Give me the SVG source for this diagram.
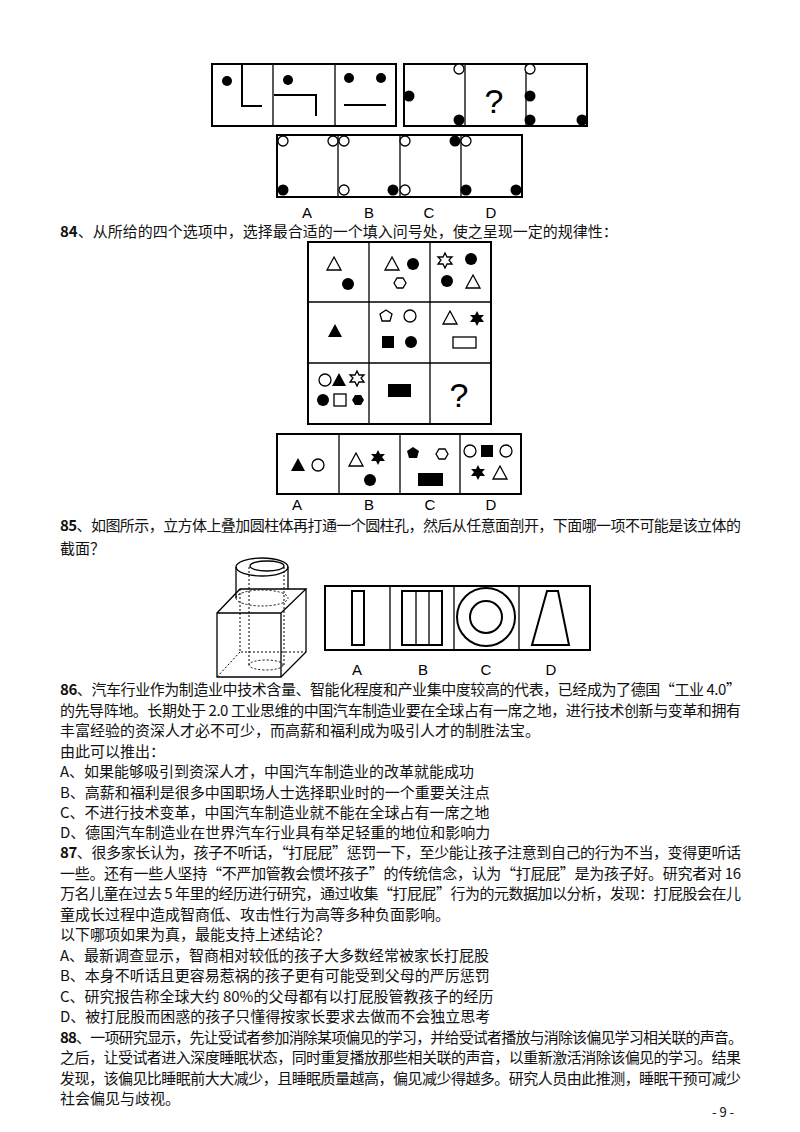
<svg xmlns="http://www.w3.org/2000/svg" width="800" height="1132" viewBox="0 0 800 1132">
<style>
.b{fill:none;stroke:#000;stroke-width:2}
.t{fill:none;stroke:#000;stroke-width:1.3}
.f{fill:#000}
.o{fill:#fff;stroke:#000;stroke-width:1.3}
.d{fill:none;stroke:#000;stroke-width:1;stroke-dasharray:2 2}
.tx{font-family:"Noto Sans CJK SC","Liberation Serif",serif;font-size:15px;fill:#111}
.lb{font-family:"Liberation Sans",sans-serif;font-size:15px;fill:#000;text-anchor:middle}
.q{font-family:"Liberation Sans",sans-serif;font-size:34px;fill:#000;text-anchor:middle}
</style>
<rect width="800" height="1132" fill="#fff"/>
<g id="fig83">
<rect class="b" x="212" y="64" width="184" height="62"/><line class="t" x1="273" y1="64" x2="273" y2="126"/><line class="t" x1="335" y1="64" x2="335" y2="126"/>
<circle class="f" cx="227" cy="81" r="5"/><polyline class="b" points="242,64 242,106 262,106"/>
<circle class="f" cx="288" cy="80" r="5"/><polyline class="b" points="274,95 316,95 316,116"/>
<circle class="f" cx="349" cy="78" r="5"/><circle class="f" cx="381" cy="78" r="5"/><line class="b" x1="344" y1="105" x2="386" y2="105"/>
<rect class="b" x="404" y="64" width="183" height="62"/><line class="t" x1="465" y1="64" x2="465" y2="126"/><line class="t" x1="526" y1="64" x2="526" y2="126"/>
<circle class="f" cx="409" cy="96" r="5.5"/><circle class="o" cx="459" cy="69" r="5"/><circle class="f" cx="459" cy="120" r="5.5"/>
<text class="q" x="494" y="113">?</text>
<circle class="o" cx="530" cy="69" r="5"/><circle class="f" cx="530" cy="96" r="5.5"/><circle class="f" cx="530" cy="120" r="5.5"/><circle class="f" cx="582" cy="120" r="5.5"/>
<rect class="b" x="277" y="135" width="245" height="62"/><line class="t" x1="338" y1="135" x2="338" y2="197"/><line class="t" x1="400" y1="135" x2="400" y2="197"/><line class="t" x1="461" y1="135" x2="461" y2="197"/>
<circle class="o" cx="283" cy="141" r="5"/><circle class="o" cx="333" cy="141" r="5"/><circle class="f" cx="283" cy="190" r="5.5"/>
<circle class="o" cx="344" cy="141" r="5"/><circle class="o" cx="344" cy="190" r="5"/><circle class="f" cx="393" cy="190" r="5.5"/>
<circle class="o" cx="405" cy="141" r="5"/><circle class="f" cx="455" cy="141" r="5.5"/><circle class="o" cx="405" cy="190" r="5"/>
<circle class="o" cx="466" cy="141" r="5"/><circle class="f" cx="466" cy="190" r="5.5"/><circle class="f" cx="516" cy="190" r="5.5"/>
<text class="lb" x="307" y="218">A</text><text class="lb" x="369" y="218">B</text><text class="lb" x="429" y="218">C</text><text class="lb" x="491" y="218">D</text>
</g>
<text class="tx" x="60" y="237"><tspan font-weight="bold">84</tspan>、从所给的四个选项中，选择最合适的一个填入问号处，使之呈现一定的规律性：</text>
<g id="fig84">
<rect class="b" x="308" y="242" width="183" height="182"/>
<line class="t" x1="369" y1="242" x2="369" y2="424"/><line class="t" x1="430" y1="242" x2="430" y2="424"/>
<line class="t" x1="308" y1="302" x2="491" y2="302"/><line class="t" x1="308" y1="363" x2="491" y2="363"/>
<polygon class="o" points="334,257 341,270 327,270"/><circle class="f" cx="348" cy="284" r="6"/>
<polygon class="o" points="392,257 399,270 385,270"/><circle class="f" cx="413" cy="264" r="6"/><polygon class="o" points="394,283 397,278 403,278 406,283 403,288 397,288"/>
<polygon class="o" points="445,253 447,257 452,257 449,260 452,264 447,264 445,268 443,264 438,264 441,260 438,257 443,257"/><circle class="f" cx="471" cy="259" r="6"/><circle class="f" cx="447" cy="281" r="6"/><polygon class="o" points="473,275 480,288 466,288"/>
<polygon class="f" points="335,324 342,337 328,337"/>
<polygon class="o" points="386,310 392,314 390,321 382,321 380,314"/><circle class="o" cx="410" cy="316" r="6"/><rect class="f" x="382" y="336" width="12" height="12"/><circle class="f" cx="411" cy="342" r="6"/>
<polygon class="o" points="450,311 457,324 443,324"/><polygon class="f" points="477,311 479,315 484,315 481,318 484,322 479,322 477,326 475,322 470,322 473,318 470,315 475,315"/><rect class="o" x="453" y="337" width="23" height="11"/>
<circle class="o" cx="325" cy="380" r="6"/><polygon class="f" points="339,373 346,386 332,386"/><polygon class="o" points="357,371 359,375 364,375 361,378 364,382 359,382 357,386 355,382 350,382 353,378 350,375 355,375"/>
<circle class="f" cx="323" cy="400" r="6"/><rect class="o" x="334" y="394" width="12" height="12"/><polygon class="f" points="352,400 355,395 361,395 364,400 361,405 355,405"/>
<rect class="f" x="388" y="384" width="23" height="13"/>
<text class="q" x="459" y="407">?</text>
<rect class="b" x="277" y="434" width="244" height="60"/>
<line class="t" x1="339" y1="434" x2="339" y2="494"/><line class="t" x1="400" y1="434" x2="400" y2="494"/><line class="t" x1="460" y1="434" x2="460" y2="494"/>
<polygon class="f" points="298,458 305,471 291,471"/><circle class="o" cx="318" cy="465" r="6"/>
<polygon class="o" points="356,453 363,466 349,466"/><polygon class="f" points="378,450 380,454 385,454 382,457 385,461 380,461 378,465 376,461 371,461 374,457 371,454 376,454"/><circle class="f" cx="370" cy="480" r="6"/>
<polygon class="f" points="413,447 419,451 417,458 409,458 407,451"/><polygon class="o" points="436,454 439,449 445,449 448,454 445,459 439,459"/><rect class="f" x="418" y="473" width="25" height="13"/>
<circle class="o" cx="470" cy="451" r="6"/><rect class="f" x="481" y="445" width="12" height="12"/><circle class="o" cx="506" cy="451" r="6"/>
<polygon class="f" points="478,465 480,469 485,469 482,472 485,476 480,476 478,480 476,476 471,476 474,472 471,469 476,469"/><polygon class="o" points="500,466 507,479 493,479"/>
<text class="lb" x="297" y="510" font-size="14">A</text><text class="lb" x="369" y="510" font-size="14">B</text><text class="lb" x="430" y="510" font-size="14">C</text><text class="lb" x="491" y="510" font-size="14">D</text>
</g>
<text class="tx" x="60" y="531" textLength="681" lengthAdjust="spacing"><tspan font-weight="bold">85</tspan>、如图所示，立方体上叠加圆柱体再打通一个圆柱孔，然后从任意面剖开，下面哪一项不可能是该立体的</text>
<text class="tx" x="60" y="554">截面？</text>
<g id="fig85">
<path class="d" d="M240,589 L240,652 L306,652 M240,652 L217,677"/>
<line class="d" x1="249" y1="567" x2="249" y2="665"/><line class="d" x1="284" y1="567" x2="284" y2="665"/>
<ellipse class="d" cx="266" cy="665" rx="17" ry="5"/>
<path class="d" d="M236,598 A26 8 0 0 0 288 598"/>
<path class="d" d="M236,598 A26 8 0 0 1 288 598"/>
<path class="t" d="M217,613 L281,613 L281,677 L217,677 Z M217,613 L240,589 L306,589 L281,613 M306,589 L306,652 L281,677"/>
<ellipse class="t" cx="262" cy="567" rx="26" ry="9"/><ellipse class="t" cx="267" cy="566" rx="17" ry="5"/>
<line class="t" x1="236" y1="567" x2="236" y2="598"/><line class="t" x1="288" y1="567" x2="288" y2="589"/>
<rect class="b" x="325" y="586" width="265" height="64"/>
<line class="t" x1="390" y1="586" x2="390" y2="650"/><line class="t" x1="454" y1="586" x2="454" y2="650"/><line class="t" x1="519" y1="586" x2="519" y2="650"/>
<rect class="b" x="352" y="591" width="12" height="54"/>
<rect class="b" x="402" y="591" width="40" height="54"/><line class="t" x1="416" y1="591" x2="416" y2="645"/><line class="t" x1="429" y1="591" x2="429" y2="645"/>
<circle class="b" cx="486" cy="617" r="29"/><circle class="b" cx="486" cy="617" r="16"/>
<polygon class="b" points="547,591 558,591 569,645 532,645"/>
<text class="lb" x="357" y="675">A</text><text class="lb" x="423" y="675">B</text><text class="lb" x="486" y="675">C</text><text class="lb" x="551" y="675">D</text>
</g>
<g class="tx">
<text x="60" y="695" textLength="681" lengthAdjust="spacing"><tspan font-weight="bold">86</tspan>、汽车行业作为制造业中技术含量、智能化程度和产业集中度较高的代表，已经成为了德国“工业 4.0”</text>
<text x="60" y="716" textLength="681" lengthAdjust="spacing">的先导阵地。长期处于 2.0 工业思维的中国汽车制造业要在全球占有一席之地，进行技术创新与变革和拥有</text>
<text x="60" y="736">丰富经验的资深人才必不可少，而高薪和福利成为吸引人才的制胜法宝。</text>
<text x="60" y="757">由此可以推出：</text>
<text x="60" y="777">A、如果能够吸引到资深人才，中国汽车制造业的改革就能成功</text>
<text x="60" y="798">B、高薪和福利是很多中国职场人士选择职业时的一个重要关注点</text>
<text x="60" y="818">C、不进行技术变革，中国汽车制造业就不能在全球占有一席之地</text>
<text x="60" y="838">D、德国汽车制造业在世界汽车行业具有举足轻重的地位和影响力</text>
<text x="60" y="858" textLength="681" lengthAdjust="spacing"><tspan font-weight="bold">87</tspan>、很多家长认为，孩子不听话，“打屁屁”惩罚一下，至少能让孩子注意到自己的行为不当，变得更听话</text>
<text x="60" y="879" textLength="681" lengthAdjust="spacing">一些。还有一些人坚持“不严加管教会惯坏孩子”的传统信念，认为“打屁屁”是为孩子好。研究者对 16</text>
<text x="60" y="899" textLength="681" lengthAdjust="spacing">万名儿童在过去 5 年里的经历进行研究，通过收集“打屁屁”行为的元数据加以分析，发现：打屁股会在儿</text>
<text x="60" y="920">童成长过程中造成智商低、攻击性行为高等多种负面影响。</text>
<text x="60" y="940">以下哪项如果为真，最能支持上述结论？</text>
<text x="60" y="961">A、最新调查显示，智商相对较低的孩子大多数经常被家长打屁股</text>
<text x="60" y="981">B、本身不听话且更容易惹祸的孩子更有可能受到父母的严厉惩罚</text>
<text x="60" y="1002">C、研究报告称全球大约 80%的父母都有以打屁股管教孩子的经历</text>
<text x="60" y="1022">D、被打屁股而困惑的孩子只懂得按家长要求去做而不会独立思考</text>
<text x="60" y="1043" textLength="683" lengthAdjust="spacing"><tspan font-weight="bold">88</tspan>、一项研究显示，先让受试者参加消除某项偏见的学习，并给受试者播放与消除该偏见学习相关联的声音。</text>
<text x="60" y="1063" textLength="681" lengthAdjust="spacing">之后，让受试者进入深度睡眠状态，同时重复播放那些相关联的声音，以重新激活消除该偏见的学习。结果</text>
<text x="60" y="1084" textLength="681" lengthAdjust="spacing">发现，该偏见比睡眠前大大减少，且睡眠质量越高，偏见减少得越多。研究人员由此推测，睡眠干预可减少</text>
<text x="60" y="1104">社会偏见与歧视。</text>
<text x="712" y="1117" font-size="13">- 9 -</text>
</g>
</svg>
